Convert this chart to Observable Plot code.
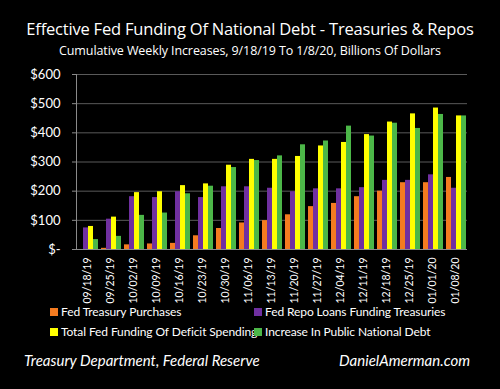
<!DOCTYPE html>
<html>
<head>
<meta charset="utf-8">
<script src="https://cdn.jsdelivr.net/npm/d3@7"></script>
<script src="https://cdn.jsdelivr.net/npm/@observablehq/plot@0.6"></script>
<style>
  html, body { margin: 0; padding: 0; background: #000; }
  body { width: 500px; height: 389px; position: relative; overflow: hidden; color: #fff; }
  #title { position: absolute; top: 17px; left: 0; width: 500px; text-align: center;
           font-family: "Open Sans", sans-serif; font-size: 16.5px; letter-spacing: -0.2px; }
  #subtitle { position: absolute; top: 42px; left: 0; width: 500px; text-align: center;
           font-family: "Open Sans", sans-serif; font-size: 12.5px; letter-spacing: -0.1px; }
  #chart { position: absolute; top: 62px; left: 0; }
  #legend { position: absolute; top: 304px; left: 50px; width: 440px;
           font-family: "Lato", sans-serif; font-size: 12px; letter-spacing: -0.1px; }
  .item { position: absolute; white-space: nowrap; }
  .sw { display: inline-block; width: 8px; height: 8px; margin-right: 3px; vertical-align: 0px; }
  #source { position: absolute; top: 351px; left: 24px; font-family: "Lato", sans-serif; font-style: italic; font-size: 15px; }
  #site { position: absolute; top: 351px; right: 30px; font-family: "Lato", sans-serif; font-style: italic; font-size: 15px; }
</style>
</head>
<body>
<div id="title">Effective Fed Funding Of National Debt - Treasuries &amp; Repos</div>
<div id="subtitle">Cumulative Weekly Increases, 9/18/19 To 1/8/20, Billions Of Dollars</div>
<div id="chart"></div>
<div id="legend"></div>
<div id="source">Treasury Department, Federal Reserve</div>
<div id="site">DanielAmerman.com</div>
<script>
const dates = ["09/18/19","09/25/19","10/02/19","10/09/19","10/16/19","10/23/19","10/30/19","11/06/19","11/13/19","11/20/19","11/27/19","12/04/19","12/11/19","12/18/19","12/25/19","01/01/20","01/08/20"];
const seriesNames = ["Fed Treasury Purchases","Fed Repo Loans Funding Treasuries","Total Fed Funding Of Deficit Spending","Increase In Public National Debt"];
const seriesColors = ["#F47B20","#7030A0","#FFFF00","#4CB748"];
const treasuryPurchases = [0,4,16,19,21,47,72,91,99,119,147,158,181,200,229,229,247];
const repoLoans = [74,104,181,178,198,178,215,215,210,198,208,208,212,237,237,256,210];
const totalFunding = [79,111,195,198,219,225,289,309,309,319,355,367,394,437,465,485,458];
const debtIncrease = [34,45,117,125,191,217,281,305,321,359,372,423,389,433,415,463,458];
const yTicks = [0,100,200,300,400,500,600];

const seriesValues = [treasuryPurchases, repoLoans, totalFunding, debtIncrease];
const data = dates.flatMap((d, i) => seriesNames.map((s, j) => ({date: d, series: s, value: seriesValues[j][i]})));

const chart = Plot.plot({
  width: 500,
  height: 248,
  marginLeft: 70,
  marginRight: 28,
  marginTop: 12,
  marginBottom: 61,
  style: {background: "#000", color: "#fff", fontFamily: "Lato, sans-serif", overflow: "visible"},
  fx: {domain: dates, padding: 0, label: null},
  x: {domain: seriesNames, axis: null, paddingInner: 0.1, paddingOuter: 0.25},
  y: {domain: [0, 600], label: null},
  color: {domain: seriesNames, range: seriesColors},
  marks: [
    Plot.gridY(yTicks, {stroke: "#5a5a5a", strokeOpacity: 1}),
    Plot.barY(data, {fx: "date", x: "series", y: "value", fill: "series"}),
    Plot.ruleY([0], {stroke: "#8a8a8a"}),
    Plot.frame({anchor: "left", stroke: "#8a8a8a", facetAnchor: "left"}),
    Plot.axisY(yTicks, {tickFormat: d => d === 0 ? "$-" : "$" + d, tickSize: 4, tickPadding: 12,
      stroke: "#8a8a8a", fill: "#fff", fontSize: 13, label: null}),
    Plot.axisFx({anchor: "bottom", tickRotate: -90, tickSize: 0, tickPadding: 8, fontSize: 10.5, label: null, fill: "#fff"})
  ]
});
document.getElementById("chart").appendChild(chart);

const legend = document.getElementById("legend");
const legendPos = [[0, 0], [204, 0], [0, 20], [204, 20]];
seriesNames.forEach((s, j) => {
  const item = document.createElement("div");
  item.className = "item";
  item.style.left = legendPos[j][0] + "px";
  item.style.top = legendPos[j][1] + "px";
  const sw = document.createElement("span");
  sw.className = "sw";
  sw.style.background = seriesColors[j];
  item.appendChild(sw);
  item.appendChild(document.createTextNode(s));
  legend.appendChild(item);
});
</script>
</body>
</html>
